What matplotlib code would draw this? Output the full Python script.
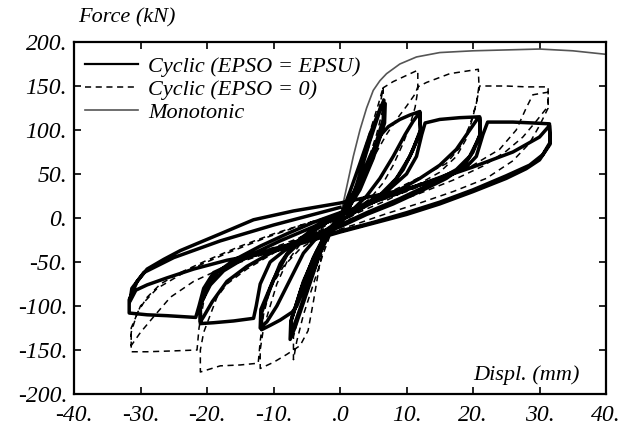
import matplotlib
matplotlib.use("Agg")
import matplotlib.pyplot as plt
from matplotlib.font_manager import FontProperties

# ---------------- data ----------------
mono_x = [0, 1, 2, 3, 4, 5, 6, 7, 9, 11.5, 15, 20, 25, 30, 35, 40]
mono_f = [0, 35, 70, 100, 125, 145, 156, 164, 175, 183, 188, 190, 191, 192, 190, 186]

# Cyclic (EPSO = EPSU) - solid
epsu_x = [0, 1.5, 3, 4.5, 5.8, 6.6, 6.5, 5.0, 3.2, 1.5, 0, -1.5,
          -2.5, -4, -5.5, -6.8, -7.4, -7.3, -5.8, -4, -2.2, 0, 1.5,
          3, 4.5, 6, 6.8, 6.7, 5, 3, 1, -1, -3, -5, -6.8, -7.5, -7.4, -5.5, -3.5, -1.5, 0.5,
          2.5, 4.5, 6.2, 7.3, 9, 10.5, 12,
          12.1, 11, 9.5, 7.5, 5, 2.5, 0, -2,
          -3.5, -5, -6.5, -7.2, -9, -10.5, -11.8,
          -11.8, -10.5, -9, -7, -4.5, -2, 0, 2,
          4, 6, 8, 9.8, 11, 12, 12.1, 10.5, 8.5, 6, 3, 0, -3, -5.5, -7.5, -9.5, -11, -12,
          -11.9, -10, -8, -5, -2, 1,
          4, 7, 10, 11.5, 12.3, 12.8, 15, 18, 21,
          21.1, 20, 18.5, 16, 12, 8, 4, 0, -4,
          -8, -10.5, -12, -12.6, -13, -16, -19, -21,
          -21, -20, -18.5, -16, -12, -8, -4, 0, 4,
          8, 12, 15, 17.5, 19.5, 20.7, 21, 21.1, 19.5, 17.5, 14, 9, 4, 0,
          -5, -10, -14, -17, -19.2, -20.5, -21, -21, -19.5, -17.5, -14, -9, -4, 0, 5,
          10, 15, 19, 20.5, 21.5, 22.2, 26, 29, 31.5,
          31.6, 30.5, 28.5, 25, 20, 15, 10, 5, 0, -5,
          -10, -15, -19, -20.5, -21.2, -21.7, -26, -29, -31.7,
          -31.7, -30.5, -29, -26.5, -24, -18, -13, -7, 0, 5,
          10, 15, 20, 26, 30, 31.5,
          31.6, 30, 28, 25, 20, 15, 10, 5, 0, -5,
          -10, -17, -22, -26, -29, -30.7, -31.6,
          -31.3, -29.5, -25, -18, -10, 0]
epsu_f = [0, 30, 62, 95, 120, 134, 112, 75, 40, 15, 2, -12,
          -30, -60, -92, -120, -135, -115, -80, -45, -18, 0, 14,
          50, 88, 122, 130, 108, 68, 32, 8, -8, -40, -85, -125, -138, -118, -72, -38, -12, 8,
          35, 70, 95, 104, 112, 117, 121,
          100, 78, 55, 35, 18, 8, -4, -15,
          -40, -72, -100, -107, -116, -122, -127,
          -108, -80, -52, -30, -15, -5, 3, 10,
          25, 45, 70, 95, 110, 120, 98, 70, 45, 26, 10, -3, -18, -40, -70, -100, -118, -125,
          -104, -70, -42, -20, -5, 6,
          17, 30, 50, 70, 95, 108, 112, 114, 115,
          96, 75, 58, 45, 30, 16, 4, -10, -22,
          -35, -50, -75, -100, -114, -117, -119, -120,
          -100, -80, -62, -48, -32, -18, -5, 6, 15,
          28, 45, 60, 78, 100, 113, 114, 94, 70, 55, 40, 22, 6, -8,
          -22, -38, -55, -72, -95, -112, -118, -98, -76, -60, -44, -26, -10, 5, 18,
          32, 46, 58, 70, 95, 109, 109, 108, 107,
          86, 72, 60, 48, 32, 18, 6, -5, -15, -25,
          -35, -48, -62, -80, -100, -113, -111, -110, -108,
          -93, -72, -58, -47, -37, -18, -2, 8, 17, 25,
          33, 45, 58, 75, 92, 105,
          84, 66, 56, 45, 30, 16, 4, -6, -16, -27,
          -38, -48, -58, -68, -76, -82, -95,
          -80, -62, -45, -26, -8, 12]

# Cyclic (EPSO = 0) - dashed
eps0_x = [0, 1.5, 3, 4.5, 5.8, 6.5,
          6.5, 5.5, 4, 2.5, 1, -1,
          -2.5, -4, -5.5, -6.5, -7,
          -7, -6, -4.5, -3, -1.5, 0, 1.5,
          3, 4.5, 5.8, 6.5, 8, 10, 11.7,
          11.7, 11.3, 10.5, 9.5, 8, 6.5, 4.5, 2, 0, -2,
          -3, -4, -4.8, -6, -8, -10, -12,
          -12, -11.5, -10.5, -9.5, -8, -6, -3.5, -1, 1,
          2.5, 4, 5.5, 7, 8.5, 10, 11.3, 11.7, 13, 16.5, 20.8,
          20.9, 20.5, 19.8, 19, 17.5, 15, 11, 7, 3, 0, -3,
          -6, -8.5, -10.5, -11.5, -12, -12.3, -15, -18, -21,
          -21, -20.5, -19.5, -18.5, -17, -14, -10, -6, -2, 1,
          5, 9, 13, 16, 18, 19.5, 20.5, 21, 25, 28, 31.3,
          31.3, 29.5, 27.5, 25, 21.5, 17, 12, 7, 2, -3, -8,
          -13, -17, -19.5, -20.5, -21.2, -21.5, -25, -29, -31.4,
          -31.4, -30.5, -29, -27, -24, -20, -15, -10, -5, 0, 5,
          10, 15, 20, 24, 26.5, 28, 29, 31.3,
          31.3, 30, 28.5, 26, 22, 17, 12, 7, 2, -3,
          -8, -13, -18, -22, -25.5, -28, -30, -31.4,
          -31.4, -30, -27.5, -23, -17, -11, -5, 0]
eps0_f = [0, 30, 62, 98, 130, 149,
          125, 95, 60, 30, 8, -10,
          -40, -75, -110, -140, -161,
          -135, -105, -70, -40, -15, 2, 20,
          50, 85, 120, 148, 155, 162, 168,
          145, 126, 105, 85, 60, 40, 22, 8, -4, -20,
          -50, -95, -128, -145, -155, -164, -171,
          -150, -125, -100, -75, -50, -30, -15, -3, 8,
          25, 50, 75, 95, 112, 127, 141, 149, 154, 164, 169,
          150, 130, 110, 90, 70, 52, 35, 20, 7, -5, -20,
          -35, -55, -80, -110, -140, -165, -167, -168, -175,
          -150, -130, -110, -90, -75, -58, -40, -22, -6, 6,
          20, 35, 50, 62, 80, 105, 130, 150, 150, 149, 149,
          127, 110, 92, 76, 59, 43, 28, 14, 0, -14, -28,
          -42, -55, -70, -95, -125, -150, -151, -152, -152,
          -130, -108, -90, -75, -62, -48, -32, -18, -6, 5, 17,
          30, 45, 60, 78, 100, 125, 140, 143,
          125, 105, 85, 65, 45, 30, 17, 5, -8, -20,
          -33, -45, -58, -72, -90, -112, -130, -145,
          -125, -100, -80, -60, -40, -22, -6, 5]

xticks = [-40, -30, -20, -10, 0, 10, 20, 30, 40]
xlabels = ["-40.", "-30.", "-20.", "-10.", ".0", "10.", "20.", "30.", "40."]
yticks = [-200, -150, -100, -50, 0, 50, 100, 150, 200]
ylabels = ["-200.", "-150.", "-100.", "-50.", "0.", "50.", "100.", "150.", "200."]

# ---------------- plot ----------------
fp_tick = FontProperties(family="Liberation Serif", style="italic", size=17)
fp = FontProperties(family="Liberation Serif", style="italic", size=16)

fig = plt.figure(figsize=(6.21, 4.28), dpi=100)
ax = fig.add_axes([74 / 621, 1 - 394 / 428, 532 / 621, 352 / 428])

ax.plot(eps0_x, eps0_f, color="black", lw=1.1, dashes=(4, 3), label="Cyclic (EPSO = 0)", zorder=2)
ax.plot(epsu_x, epsu_f, color="black", lw=2.5, solid_joinstyle="round", label="Cyclic (EPSO = EPSU)", zorder=3)
ax.plot(mono_x, mono_f, color="#555555", lw=1.2, label="Monotonic", zorder=2)

ax.set_xlim(-40, 40)
ax.set_ylim(-200, 200)
ax.set_xticks(xticks)
ax.set_xticklabels(xlabels, fontproperties=fp_tick)
ax.set_yticks(yticks)
ax.set_yticklabels(ylabels, fontproperties=fp_tick)
ax.tick_params(axis="x", direction="in", length=5, width=1.2, top=True, pad=8)
ax.tick_params(axis="y", direction="in", length=5, width=1.2, right=True, pad=5)
for s in ax.spines.values():
    s.set_linewidth(1.6)

handles, labels = ax.get_legend_handles_labels()
order = [1, 0, 2]
leg = ax.legend([handles[i] for i in order], [labels[i] for i in order], loc="upper left",
                bbox_to_anchor=(0.0, 0.99), frameon=False, prop=fp, handlelength=2.4,
                handletextpad=0.45, labelspacing=0.1, borderaxespad=0.2, borderpad=0.3)
leg.get_lines()[0].set_linewidth(1.6)

fig.text(78 / 621, 1 - 18 / 428, "Force (kN)", fontproperties=fp, va="center", ha="left")
ax.text(0.951, 0.054, "Displ. (mm)", transform=ax.transAxes, fontproperties=fp, ha="right", va="center")

fig.savefig("out.png", dpi=100)
